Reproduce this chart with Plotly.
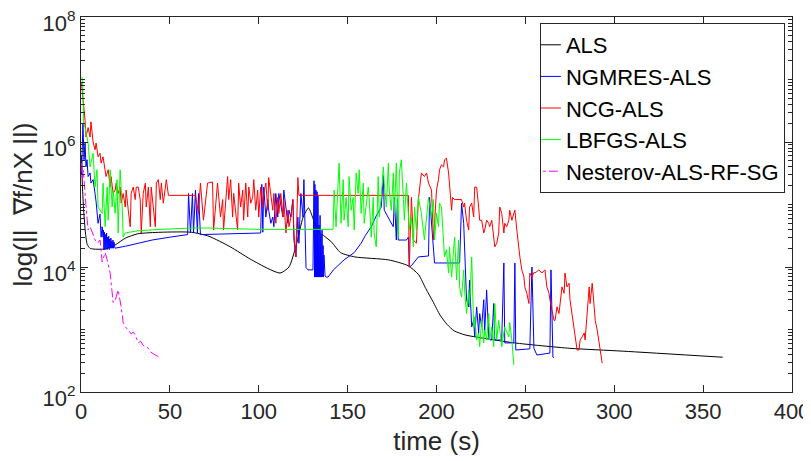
import plotly.graph_objects as go

# ---------------- data ----------------
als_t = [0.3, 0.8, 1.5, 2.5, 3.5, 5.0, 6.8, 13.6, 19.2, 25, 32, 45, 62, 72, 84, 95, 105, 112, 117, 121,
         125, 128, 131, 134, 137, 141, 146, 154, 173, 184, 190, 194, 198, 202, 206, 210, 216, 222, 244,
         275, 305, 361]
als_v = [6e5, 2e5, 8e4, 3.5e4, 2.3e4, 2.0e4, 1.94e4, 1.94e4, 2.25e4, 2.9e4, 3.4e4, 3.6e4, 3.6e4, 3.1e4,
         2.1e4, 1.35e4, 9.5e3, 8.0e3, 1.0e4, 2.2e4, 6.3e4, 8.8e4, 5.5e4, 3.6e4, 3.1e4, 2.5e4, 1.7e4,
         1.45e4, 1.3e4, 1.05e4, 7.5e3, 4.5e3, 2.8e3, 1.7e3, 1.2e3, 9.5e2, 8.2e2, 7.6e2, 6.1e2, 5.0e2,
         4.5e2, 3.6e2]

ngmres_t = [0.3, 0.8, 1.1, 1.7, 2.3, 2.8, 3.4, 4.0, 5.1, 5.6, 6.8, 7.9, 8.5, 9.6, 10.7, 11.3, 11.9, 12.4,
            12.6, 12.9, 13.2, 13.5, 13.8, 14.1, 14.4, 14.7, 15.0, 15.3, 15.6, 15.9, 16.2, 16.5, 16.8, 17.1,
            17.4, 17.7, 18.0, 18.3, 18.6, 18.9, 19.2,
            25, 32, 40, 50, 60, 60.5, 61.6, 62.7, 63.3, 64.4, 65.5, 66.1, 67.2,
            101.1, 101.7, 102.3, 102.8, 104.0, 105.1, 105.6, 106.8, 107.9, 108.5, 109.6, 110.7, 111.3,
            112.4, 113.6, 114.1, 115.3, 116.4, 117.0, 118.1, 119.2, 119.8, 120.9, 122.0, 122.6, 123.7,
            124.9, 125.4, 126.6, 127.7, 130.5, 131.1, 131.4, 131.6, 131.9, 132.2, 132.5, 132.8, 133.1,
            133.3, 133.6, 133.9, 134.2, 134.5, 134.7, 135.0, 135.3, 135.6, 135.9, 136.2, 136.4, 136.7,
            137.3, 137.9, 139.0, 142.0, 148.0, 153.7, 157.6, 160.0, 163.3, 166.0, 168.9, 170.1, 170.6,
            172.9, 174.6, 175.7, 176.3, 177.4, 178.0, 178.5, 183.1, 184.2, 184.7, 185.9, 189.8, 195.5,
            196.1, 197.2, 198.9, 213.0, 214.1, 215.3, 215.8, 216.9, 218.1, 218.6, 219.8, 220.9, 221.5,
            222.6, 223.7, 224.3, 225.4, 226.6, 227.1, 228.2, 229.4, 229.9, 231.1, 232.2, 232.8, 236.7,
            237.9, 238.4, 243.5, 244.1, 244.6, 252.5, 253.7, 254.8, 256.5, 263.8, 264.4, 265.5, 266.1]
ngmres_v = [3e5, 1.0e6, 2.0e6, 5.2e5, 9.6e5, 4.0e5, 5.2e5, 2.8e5, 3.2e5, 2.2e5, 2.5e5, 1.5e5, 1.1e5, 5.0e4,
            7.0e4, 3.0e4, 4.4e4, 3.0e4,
            3.9e4, 1.9e4, 3.6e4, 1.9e4, 3.3e4, 2.0e4, 3.5e4, 1.9e4, 3.0e4, 2.0e4, 3.1e4, 1.9e4, 2.8e4,
            2.0e4, 2.9e4, 2.0e4, 2.6e4, 2.0e4, 2.7e4, 2.0e4, 2.5e4, 2.1e4, 2.0e4,
            2.15e4, 2.4e4, 2.7e4, 3.0e4, 3.3e4, 1.5e5, 3.5e4, 1.5e5, 3.5e4, 1.7e5, 3.5e4, 1.5e5, 3.3e4,
            3.5e4, 2.1e5, 3.6e4, 1.9e5, 6.3e4, 1.2e5, 8.1e4, 5.0e4, 6.3e4, 4.4e4, 1.5e5, 6.3e4, 1.5e5,
            1.05e5, 6.3e4, 1.7e5, 8.1e4, 5.0e4, 8.1e4, 6.3e4, 1.2e5, 2.7e4, 1.45e4, 6.3e4, 2.4e4, 1.5e5,
            6.3e4, 2.5e5, 9.8e3, 9.0e3, 9.0e3, 2.4e5, 6.9e3, 2.1e5, 6.9e3, 1.7e5, 6.9e3, 1.6e5, 6.9e3,
            1.4e5, 6.9e3, 4.7e4, 6.9e3, 6.7e4, 6.9e3, 3.3e4, 6.9e3, 3.9e4, 7.0e3, 2.2e4, 6.9e3, 1.55e4,
            7.2e3, 6.9e3, 6.9e3, 9.0e3, 1.3e4, 1.7e4, 2.4e4, 3.2e4, 4.4e4, 6.5e4, 9.1e4, 2.9e5, 8.1e4,
            6.3e4, 5.0e4, 4.4e4, 1.3e5, 2.7e4, 1.2e5, 2.7e4, 2.7e4, 3.0e4, 1.0e4, 1.05e4, 1.45e4, 1.5e4,
            1.3e5, 5.6e4, 1.16e4, 1.16e4, 1.05e5, 5.0e4, 2.4e4, 3.0e3, 2.3e3, 6.2e3, 1.1e3, 1.4e3, 7.6e2,
            2.3e3, 8.8e2, 1.8e3, 1.1e3, 3.0e3, 8.8e2, 4.3e3, 7.6e2, 6.8e2, 6.8e2, 2.6e3, 6.8e2, 6.8e2,
            1.16e4, 6.1e2, 6.1e2, 1.16e4, 4.7e2, 4.9e2, 1.0e4, 5.0e2, 3.9e2, 4.2e2, 9.0e3, 3.6e2, 3.5e2]

ncg_t = [0.3, 1.1, 2.3, 2.8, 4.0, 5.1, 5.6, 6.8, 7.9, 8.5, 9.6, 10.7, 11.3, 12.4, 13.6, 14.1, 15.3, 16.4,
         16.9, 18.1, 19.2, 19.8, 20.9, 22.0, 22.6, 23.7, 24.9, 25.4, 26.6, 27.7, 28.2, 29.4, 30.5, 31.1,
         32.2, 33.3, 33.9, 35.0, 36.2, 36.7, 37.9, 39.0, 39.5, 40.7, 41.8, 42.4, 43.5, 44.6, 45.2, 46.3,
         47.5, 48.0, 49.2, 64.4, 66.1, 67.2, 68.9, 71.2, 74.0, 74.6, 76.8, 77.4, 78.5, 79.7, 80.2, 82.5,
         83.1, 84.2, 85.3, 85.9, 88.1, 88.7, 89.8, 91.0, 91.5, 92.7, 93.8, 94.4, 95.5, 96.6, 97.2, 98.3,
         99.4, 100.0, 101.1, 102.3, 102.8, 104.0, 105.1, 105.6, 106.8, 107.9, 108.5, 109.6, 110.7, 111.3,
         112.4, 113.6, 114.1, 115.3, 116.4, 117.0, 118.1, 119.2, 119.8, 120.9, 122.0, 122.6, 184.2,
         184.7, 185.9, 187.0, 188.7, 189.8, 191.5, 193.2, 194.4, 195.5, 197.2, 198.3, 198.9, 200.0,
         201.1, 201.7, 202.8, 204.0, 204.5, 205.6, 206.8, 207.3, 208.5, 209.0, 210.2, 214.1, 215.3,
         215.8, 216.9, 218.1, 218.6, 219.8, 220.9, 221.5, 222.6, 223.7, 224.3, 225.4, 226.6, 227.1,
         228.2, 229.4, 229.9, 231.1, 232.8, 233.9, 235.0, 235.6, 236.7, 237.9, 238.4, 239.5, 240.7,
         241.2, 242.4, 243.5, 244.1, 245.2, 246.3, 246.9, 248.0, 249.2, 249.7, 250.8, 252.0, 252.5,
         253.7, 254.8, 255.4, 257.6, 259.3, 261.0, 262.1, 263.3, 263.8, 265.0, 266.1, 266.7, 267.8,
         268.9, 269.5, 270.6, 271.8, 272.3, 273.4, 274.6, 275.1, 276.3, 277.4, 278.0, 279.1, 280.2,
         280.8, 281.9, 283.1, 283.6, 284.7, 285.9, 286.4, 287.6, 288.7, 289.3, 290.4, 291.5, 292.1, 293.2]
ncg_v = [8.7e6, 5.2e6, 2.2e6, 1.2e6, 1.7e6, 1.2e6, 2.1e6, 1.0e6, 7.5e5, 9.6e5, 5.8e5, 6.6e5, 4.6e5, 5.8e5,
         3.6e5, 2.8e5, 3.6e5, 1.9e5, 2.8e5, 1.5e5, 1.7e5, 2.2e5, 1.5e5, 1.9e5, 1.05e5, 1.5e5, 9.1e4,
         1.7e5, 8.1e4, 4.4e4, 1.5e5, 1.9e5, 1.2e5, 1.9e5, 1.9e5, 1.2e5, 3.5e4, 1.5e5, 2.2e5, 9.1e4,
         1.9e5, 4.4e4, 1.9e5, 9.1e4, 4.4e4, 2.2e5, 2.5e5, 1.2e5, 2.2e5, 1.05e5, 2.2e5, 2.5e5, 1.4e5,
         1.4e5, 7.2e4, 2.2e5, 5.6e4, 2.2e5, 2.3e5, 3.9e4, 2.2e5, 1.5e5, 6.3e4, 1.2e5, 3.9e4, 2.8e5,
         1.2e5, 2.5e5, 6.3e4, 1.5e5, 3.9e4, 2.2e5, 9.1e4, 1.7e5, 5.6e4, 2.2e5, 6.3e4, 1.9e5, 1.05e5,
         1.3e5, 2.5e5, 8.1e4, 1.7e5, 6.3e4, 1.9e5, 9.1e4, 1.5e5, 2.2e5, 8.1e4, 2.7e5, 1.5e5, 8.1e4,
         1.5e5, 5.0e4, 1.3e5, 7.2e4, 1.5e5, 6.3e4, 1.2e5, 3.5e4, 8.1e4, 4.4e4, 6.3e4, 1.2e5, 3.5e4,
         1.45e4, 2.7e5, 1.4e5, 1.4e5,
         1.0e4, 1.3e5, 2.7e4, 2.4e4, 1.2e5, 3.2e5, 2.8e5, 3.2e5, 2.2e5, 1.7e5, 2.7e4, 5.0e4, 1.7e5,
         2.5e5, 3.6e5, 4.3e5, 4.0e5, 5.2e5, 5.5e5, 3.2e5, 1.9e5, 8.1e4, 1.3e5, 1.2e5, 1.2e5, 9.1e4,
         1.05e5, 5.6e4, 3.9e4, 9.1e4, 1.05e5, 6.3e4, 1.9e5, 1.9e5, 9.1e4, 5.6e4, 5.6e4, 3.5e4, 3.9e4,
         5.6e4, 5.0e4, 4.4e4, 5.6e4, 2.1e4, 2.4e4, 3.5e4, 9.1e4, 7.2e4, 3.5e4, 5.0e4, 4.4e4, 5.6e4,
         8.1e4, 5.6e4, 7.2e4, 8.1e4, 3.9e4, 1.7e4, 1.45e4, 9.0e3, 6.9e3, 4.8e3, 3.8e3, 2.6e3, 8.0e3,
         6.9e3, 8.2e3, 8.0e3, 9.0e3, 8.0e3, 9.0e3, 4.8e3, 3.8e3, 3.0e3, 2.0e3, 1.4e3, 1.4e3, 2.3e3,
         1.8e3, 2.6e3, 4.8e3, 3.8e3, 8.0e3, 4.8e3, 5.5e3, 3.0e3, 1.8e3, 1.1e3, 7.6e2, 4.7e2, 4.7e2,
         6.8e2, 7.6e2, 8.8e2, 6.8e2, 1.6e3, 4.8e3, 2.6e3, 5.5e3, 2.3e3, 1.4e3, 9.8e2, 5.3e2, 4.7e2, 2.9e2]

lbfgs_t = [0.5, 1.0, 1.5, 2.3, 4.0, 5.1, 6.8, 7.9, 9.0, 9.6, 11.9, 12.4, 13.6, 14.7, 15.3, 16.4, 17.5, 18.1,
           19.2, 20.3, 20.9, 22.0, 23.2, 23.7, 24.9, 32, 45, 62, 72, 100, 141.8, 142.4, 143.5, 144.6,
           145.2, 146.3, 147.5, 148.0, 149.2, 150.3, 150.8, 152.0, 153.1, 153.7, 154.8, 155.9, 156.5,
           157.6, 158.8, 159.3, 161.6, 162.1, 163.3, 164.4, 164.9, 166.1, 167.2, 167.8, 168.9, 170.1,
           170.6, 171.8, 172.9, 173.4, 174.6, 175.7, 176.3, 177.4, 178.5, 179.1, 180.2, 181.4, 181.9,
           183.1, 184.2, 184.7, 185.9, 187.0, 187.6, 188.7, 189.8, 191.5, 193.2, 195.5, 197.2, 198.3,
           198.9, 200.0, 201.1, 201.7, 202.8, 204.0, 204.5, 205.6, 206.8, 207.3, 208.5, 209.6, 210.2,
           211.3, 212.4, 213.0, 214.1, 215.3, 215.8, 216.9, 218.1, 218.6, 219.8, 220.9, 221.5, 222.6,
           223.7, 224.3, 225.4, 226.6, 227.1, 228.2, 229.4, 229.9, 231.1, 232.2, 232.8, 233.9, 235.0,
           236.7, 238.4, 240.7, 241.2, 242.4, 243.5]
lbfgs_v = [1.1e7, 8e6, 2e6, 1.7e6, 9.6e5, 4.0e5, 6.6e5, 1.9e5, 3.6e5, 9.1e4, 7.2e4, 2.2e5, 4.4e4, 1.9e5,
           5.6e4, 3.6e5, 9.1e4, 1.7e5, 7.2e4, 2.5e5, 3.5e4, 3.6e5, 9.1e4, 3.0e4, 3.5e4, 3.8e4, 4.0e4,
           4.2e4, 4.2e4, 4.0e4, 4.0e4, 1.7e5, 4.4e4, 1.5e5, 4.6e5, 5.0e4, 2.5e5, 5.6e4, 1.3e5, 4.4e4,
           2.8e5, 8.1e4, 1.3e5, 3.9e4, 3.2e5, 1.5e5, 3.6e5, 7.2e4, 2.2e5, 5.0e4, 1.9e5, 1.3e5, 3.0e4,
           1.3e5, 3.5e4, 2.1e4, 2.8e5, 6.3e4, 1.3e5, 4.0e5, 2.2e5, 9.1e4, 4.6e5, 1.7e5, 8.1e4, 3.2e5,
           7.2e4, 4.6e5, 3.0e4, 3.2e5, 5.2e5, 1.2e5, 5.6e4, 2.2e5, 8.1e4, 4.0e4, 6.3e4, 2.1e4, 9.1e4,
           3.9e4, 1.3e5, 7.2e4, 2.7e4, 1.3e5, 6.3e4, 1.2e5, 2.7e4, 7.2e4, 4.4e4, 1.05e5, 9.1e4, 2.7e4,
           1.45e4, 1.9e4, 8.0e3, 2.1e4, 6.9e3, 1.9e4, 3.0e4, 6.2e3, 2.7e4, 4.8e3, 3.3e3, 9.0e3, 4.3e3,
           1.8e3, 4.3e3, 2.3e3, 1.45e4, 1.1e3, 1.6e3, 6.8e2, 8.8e2, 5.3e2, 1.4e3, 6.1e2, 9.8e2, 6.8e2,
           1.8e3, 6.8e2, 1.1e3, 5.3e2, 2.6e3, 6.8e2, 1.4e3, 5.3e2, 1.1e3, 7.6e2, 1.3e3, 6.8e2, 2.7e2]

nesterov_t = [0.3, 0.8, 1.3, 2.3, 3.0, 4.0, 5.1, 6.5, 7.9, 9.3, 10.7, 11.9, 13.6, 14.7, 16.4, 18.1, 19.2,
              20.9, 22.6, 23.7, 25, 26.6, 28.2, 29.4, 30.5, 32.2, 33.5, 35, 36.5, 37.9, 39, 40.5, 41.8,
              43.5, 44.6]
nesterov_v = [4.6e5, 2.5e5, 3.5e5, 1.2e5, 8e4, 3.9e4, 4.4e4, 3.5e4, 2.7e4, 2.4e4, 2.7e4, 1.2e4, 1.7e4,
              1.3e4, 8e3, 2.7e3, 2.9e3, 4.3e3, 2.3e3, 1.3e3, 1.1e3, 9.8e2, 8.5e2, 9.1e2, 8.2e2, 6.1e2,
              6.5e2, 5.6e2, 5.2e2, 5.0e2, 4.4e2, 4.1e2, 3.9e2, 3.7e2, 3.6e2]

names = ["ALS", "NGMRES-ALS", "NCG-ALS", "LBFGS-ALS", "Nesterov-ALS-RF-SG"]
x_ticks = [0, 50, 100, 150, 200, 250, 300, 350, 400]
y_ticks = [1e2, 1e4, 1e6, 1e8]
y_ticktext = ["10<sup>2</sup>", "10<sup>4</sup>", "10<sup>6</sup>", "10<sup>8</sup>"]
# minor log ticks: every 1..9 x 10^k except the labelled decades
y_minor = [m * 10 ** e for e in range(2, 8) for m in range(1, 10) if not (m == 1 and e % 2 == 0)]

# ---------------- figure ----------------
AX = "#262626"
fig = go.Figure()
fig.add_trace(go.Scatter(x=als_t, y=als_v, mode="lines", name=names[0],
                         line=dict(color="black", width=1, shape="spline", smoothing=0.6)))
fig.add_trace(go.Scatter(x=ngmres_t, y=ngmres_v, mode="lines", name=names[1],
                         line=dict(color="#0000ff", width=1)))
fig.add_trace(go.Scatter(x=ncg_t, y=ncg_v, mode="lines", name=names[2],
                         line=dict(color="#ff0000", width=1)))
fig.add_trace(go.Scatter(x=lbfgs_t, y=lbfgs_v, mode="lines", name=names[3],
                         line=dict(color="#00ff00", width=1)))
fig.add_trace(go.Scatter(x=nesterov_t, y=nesterov_v, mode="lines", name=names[4],
                         line=dict(color="#ff00ff", width=1, dash="dashdot")))

# the page body has an 8px default margin, so the figure is sized/offset to land on the same pixels
fig.update_layout(
    width=803, height=453,
    margin=dict(l=73, r=19, t=9, b=69, autoexpand=False),
    paper_bgcolor="white", plot_bgcolor="white",
    font=dict(family="Liberation Sans, Arial, sans-serif", size=22, color=AX),
    legend=dict(x=0.990, y=0.984, xanchor="right", yanchor="top", indentation=-15,
                bordercolor=AX, borderwidth=1, bgcolor="white",
                font=dict(size=22, color="black"), tracegroupgap=0),
)
fig.update_xaxes(
    range=[0, 400], tickvals=x_ticks, ticks="inside", ticklen=7, tickcolor=AX,
    showline=True, linecolor=AX, linewidth=1, mirror="allticks",
    showgrid=False, zeroline=False, automargin=False, ticklabeloverflow="allow",
    title=dict(text="time (s)", standoff=8),
)
fig.update_yaxes(
    type="log", range=[2, 8], tickvals=y_ticks, ticktext=y_ticktext,
    ticks="inside", ticklen=7, tickcolor=AX,
    showline=True, linecolor=AX, linewidth=1, mirror="allticks",
    showgrid=False, zeroline=False, automargin=False, ticklabeloverflow="allow",
    ticklabelshift=6,
    minor=dict(ticks="inside", ticklen=4, tickmode="array", tickvals=y_minor,
               tickcolor=AX, showgrid=False),
    title=dict(text="log(||  \u2207f/nX ||)", standoff=6),
)

fig.write_html("out.html")
